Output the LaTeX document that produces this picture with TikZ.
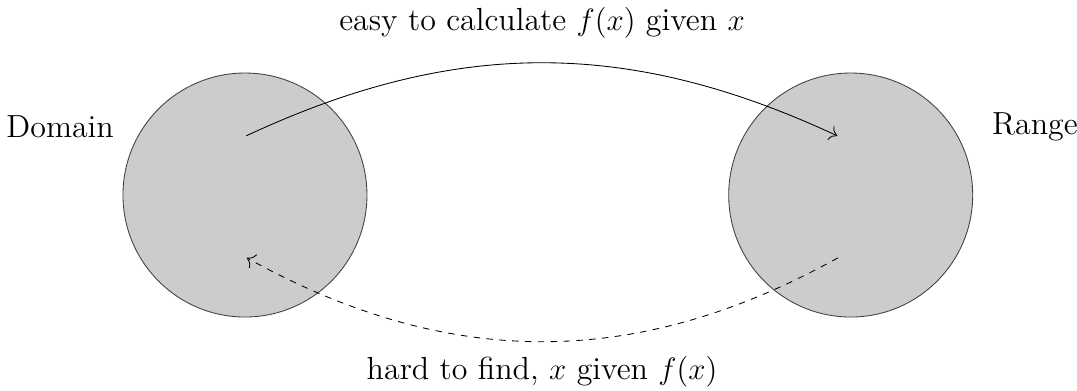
\documentclass[tikz,border=0pt]{standalone}
\usetikzlibrary{arrows.meta}
\begin{document}
\begin{tikzpicture}[
  setcircle/.style={circle, draw=black!75, fill=gray!40, minimum size=4cm, inner sep=0pt},
  lbl/.style={font=\fontsize{14.9}{18}\selectfont},
  tip/.style={-{To[scale=1.4]}}
]
\useasboundingbox (-4.016,-3.197) rectangle (13.64,3.197);
\node[setcircle] (dom) at (0,0) {};
\node[setcircle] (ran) at (9.93,0) {};
\coordinate (a1) at (0.02,0.97);
\coordinate (b1) at (9.71,0.97);
\coordinate (b2) at (9.72,-1.03);
\coordinate (a2) at (0.03,-1.03);
\node[lbl] (dl) at (-3.03,1.12) {Domain};
\node[lbl] (rl) at (12.95,1.12) {Range};
\draw[tip] (a1) to[bend left=25] (b1);
\draw[tip, dashed] (b2) to[bend left=29] (a2);
\node[lbl] (top) at (4.87,2.82) {easy to calculate $f(x)$ given $x$};
\node[lbl] (bot) at (4.87,-2.9) {hard to find, $x$ given $f(x)$};
\end{tikzpicture}
\end{document}
